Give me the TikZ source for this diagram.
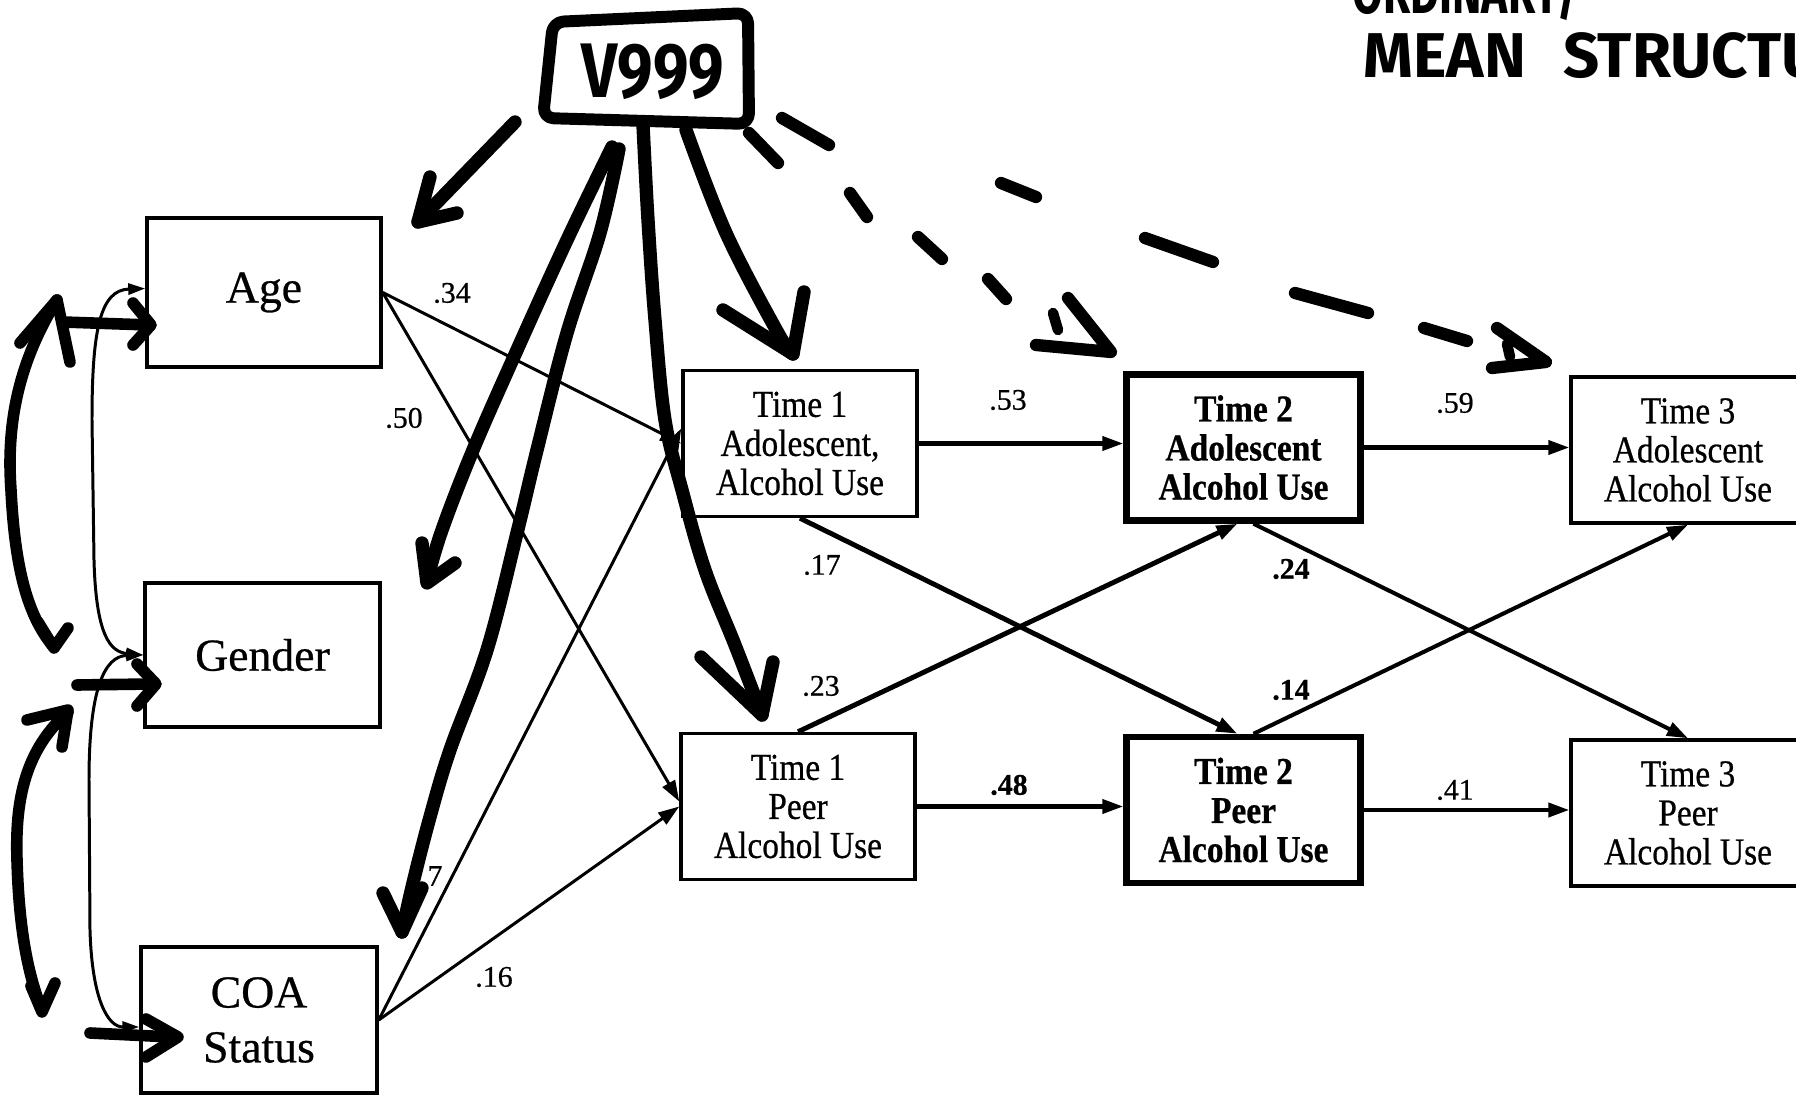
\documentclass[tikz,border=0pt]{standalone}
\usepackage{fontspec}
\setmainfont{Liberation Serif}[FakeBold=0.6]
\newfontfamily\narrowserif{Liberation Serif}[FakeStretch=0.88, FakeBold=0.6]
\newfontfamily\marker{Fira Sans}[FakeStretch=0.82]
\newfontfamily\markerwide{Fira Sans}
\newfontfamily\markernarrow{Fira Sans}[FakeStretch=0.7]
\usetikzlibrary{arrows.meta,calc}

\begin{document}
\begin{tikzpicture}[x=0.01cm, y=-0.01cm,
  var/.style={draw, line width=0.95pt, inner sep=0pt, align=center,
    font=\fontsize{13}{15.6}\selectfont},
  tbox/.style={draw, line width=0.95pt, inner sep=0pt, align=center,
    minimum width=2.34cm, minimum height=1.46cm,
    font=\narrowserif\fontsize{10.8}{11.1}\selectfont},
  tboxb/.style={tbox, line width=1.8pt,
    font=\narrowserif\bfseries\fontsize{10.8}{11.1}\selectfont},
  coef/.style={inner sep=0pt, font=\fontsize{8.5}{9}\selectfont},
  coefb/.style={inner sep=0pt, font=\bfseries\fontsize{8.5}{9}\selectfont},
  tip/.style={-{Triangle[length=0.21cm, width=0.14cm]}},
  thinarrow/.style={tip, line width=0.85pt},
  midarrow/.style={tip, line width=1.15pt},
  crossarrow/.style={tip, line width=1.4pt},
  corr/.style={line width=0.85pt, {Triangle[length=0.17cm, width=0.11cm]}-{Triangle[length=0.17cm, width=0.11cm]}},
  hand/.style={line width=3.8pt, line cap=round, line join=round},
  handL/.style={line width=3.3pt, line cap=round, line join=round},
  dashhand/.style={line width=3.5pt, line cap=round},
  scrawl/.style={inner sep=0pt, anchor=base west}
]
\useasboundingbox (0,0) rectangle (1796,1097);
\fill[white] (0,0) rectangle (1796,1097);

% ---------- variables ----------
\node[var, minimum width=2.34cm, minimum height=1.49cm] (age) at (264,292.5) {Age};
\node[var, minimum width=2.35cm, minimum height=1.44cm] (gender) at (262.5,655) {Gender};
\node[var, minimum width=2.36cm, minimum height=1.46cm] (coa) at (259,1020) {COA\\Status};

\node[tbox]  (t1a) at (800,443.5)  {Time 1\\Adolescent,\\Alcohol Use};
\node[tbox]  (t1p) at (798,806.5)  {Time 1\\Peer\\Alcohol Use};
\node[tboxb] (t2a) at (1243.5,447.5) {Time 2\\Adolescent\\Alcohol Use};
\node[tboxb] (t2p) at (1243.5,810) {Time 2\\Peer\\Alcohol Use};
\node[tbox]  (t3a) at (1688,450)   {Time 3\\Adolescent\\Alcohol Use};
\node[tbox]  (t3p) at (1688,813)   {Time 3\\Peer\\Alcohol Use};

% ---------- structural paths ----------
\draw[thinarrow] (age.east) -- (t1a.west);
\draw[thinarrow] (age.east) -- ($(t1p.west)+(0,-5)$);
\draw[thinarrow] (coa.east) -- ($(t1a.west)+(0,-15)$);
\draw[thinarrow] (coa.east) -- (t1p.west);

\draw[midarrow] (t1a.east) -- (t1a.east -| t2a.west);
\draw[midarrow] (t1p.east) -- (t1p.east -| t2p.west);
\draw[midarrow] (t2a.east) -- (t2a.east -| t3a.west);
\draw[midarrow] (t2p.east) -- (t2p.east -| t3p.west);

\draw[crossarrow] (t1a.south) -- ($(t2p.north)+(-6,0)$);
\draw[crossarrow] (t1p.north) -- ($(t2a.south)+(-6,0)$);
\draw[midarrow] ($(t2a.south)+(10,0)$) -- (t3p.north);
\draw[midarrow] ($(t2p.north)+(10,0)$) -- (t3a.south);

% correlations among the exogenous variables
\draw[corr] ($(age.west)+(0,-4)$) .. controls (100,290) and (92,330) .. (92,420)
  -- (94,560) .. controls (96,635) and (110,652) .. (gender.west);
\draw[corr] (gender.west) .. controls (104,656) and (89,690) .. (89,780)
  -- (90,930) .. controls (92,1000) and (108,1027) .. ($(coa.west)+(0,7)$);

% ---------- coefficients ----------
\node[coef]  (c34) at (452,293) {.34};
\node[coef]  (c50) at (404,418) {.50};
\node[coef]  (c16) at (494,977) {.16};
\node[coef]  (c7)  at (435,876) {7};
\node[coef]  (c53) at (1008,400) {.53};
\node[coef]  (c17) at (822,565) {.17};
\node[coef]  (c23) at (821,686) {.23};
\node[coefb] (c48) at (1009,785) {.48};
\node[coefb] (c24) at (1291,569) {.24};
\node[coefb] (c14) at (1291,690) {.14};
\node[coef]  (c59) at (1455,403) {.59};
\node[coef]  (c41) at (1455,790) {.41};

% ---------- marker annotations ----------
\node[inner sep=0pt, font=\marker\bfseries\fontsize{22}{22}\selectfont] (v999) at (653,72) {V999};
\draw[hand, line width=3.4pt, rounded corners=3pt] (553,22) -- (748,13) -- (749,124) -- (543,118) -- cycle;

\node[scrawl, font=\markernarrow\bfseries\fontsize{18}{18}\selectfont] (ordinary) at (1352,14) {ORDINARY/};
\node[scrawl, font=\markerwide\bfseries\fontsize{18}{18}\selectfont] (mean) at (1363,78) {MEAN\hspace{0.37cm}STRUCTURE};

% arrow towards Age
\coordinate (vA) at (515,122);
\draw[hand] (vA) -- (418,222);
\draw[hand] (430,177) -- (418,222) -- (457,213);

% arrow towards Gender
\coordinate (vB) at (612,147);
\draw[hand] plot[smooth, tension=0.6] coordinates {(vB) (567,240) (517,350) (473,450) (442,530) (427,580)};
\draw[hand] (422,543) -- (427,583) -- (455,563);

% arrow towards COA Status
\coordinate (vC) at (619,149);
\draw[hand] plot[smooth, tension=0.6] coordinates {(vC) (600,233) (567,333) (537,450) (517,533) (487,650) (450,750) (430,817) (413,883) (402,932)};
\draw[hand] (383,893) -- (402,932) -- (422,888);

% arrow towards Time 1 Peer
\coordinate (vD) at (643,125);
\draw[hand] plot[smooth, tension=0.6] coordinates {(vD) (648,220) (655,320) (665,420) (682,490) (705,570) (735,645) (762,715)};
\draw[hand] (701,657) -- (762,715) -- (773,662);

% arrow towards Time 1 Adolescent
\coordinate (vE) at (686,130);
\draw[hand] plot[smooth, tension=0.6] coordinates {(vE) (726,233) (778,333) (793,354)};
\draw[hand] (723,310) -- (793,354) -- (804,292);

% dashed arrow towards Time 2 Adolescent
\draw[dashhand] (749,133) -- (778,163);
\draw[dashhand] (850,193) -- (867,217);
\draw[dashhand] (918,237) -- (942,259);
\draw[dashhand] (988,279) -- (1006,299);
\draw[hand, line width=3.5pt] (1068,298) -- (1111,352) -- (1036,345);
\draw[hand, line width=3pt] (1053,313) -- (1058,330);

% dashed arrow towards Time 3 Adolescent
\draw[dashhand] (782,118) -- (829,145);
\draw[dashhand] (1001,183) -- (1036,197);
\draw[dashhand] (1145,238) -- (1213,262);
\draw[dashhand] (1295,293) -- (1368,313);
\draw[dashhand] (1424,328) -- (1467,341);
\draw[hand, line width=3.5pt] (1497,328) -- (1546,362) -- (1492,368);
\draw[hand, line width=3pt] (1507,344) -- (1510,357);

% left-hand double arrows
\draw[handL] (57,300) .. controls (20,360) and (6,420) .. (11,490) .. controls (15,570) and (28,615) .. (52,645);
\draw[handL] (20,343) -- (57,300) -- (70,362);
\draw[handL] (38,622) -- (54,648) -- (68,628);
\draw[handL] (63,322) -- (150,325);
\draw[handL] (133,303) -- (151,325) -- (133,345);
\draw[handL] (77,685) -- (150,684);
\draw[handL] (137,664) -- (156,684) -- (137,706);

\draw[handL] (68,712) .. controls (25,750) and (15,800) .. (17,860) .. controls (19,930) and (28,975) .. (42,1010);
\draw[handL] (27,720) -- (68,710) -- (62,747);
\draw[handL] (31,986) -- (42,1012) -- (55,983);
\draw[handL] (90,1033) -- (172,1037);
\draw[handL] (146,1019) -- (178,1037) -- (146,1057);
\end{tikzpicture}
\end{document}
